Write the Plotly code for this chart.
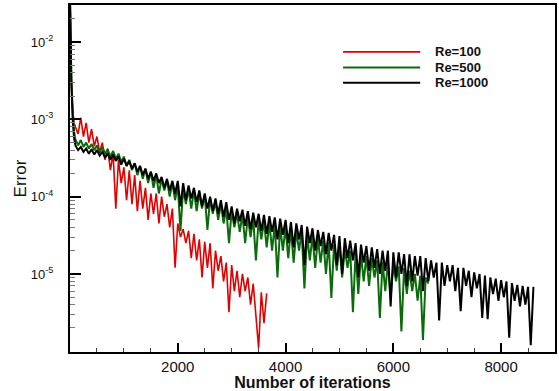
import plotly.graph_objects as go

# ---------------- data ----------------
head_iter = [0, 10, 25, 50, 75]

red_iter = head_iter + list(range(100, 3651, 50))
red_err = [
    5.0e-2, 1.5e-2, 3.0e-3, 1.3e-3, 9.0e-4,
    8.0e-4, 6.5e-4, 1.05e-3, 6.0e-4, 9.0e-4, 5.0e-4, 7.5e-4, 4.5e-4, 6.0e-4, 3.8e-4,
    5.0e-4, 3.0e-4, 4.2e-4, 2.2e-4, 3.6e-4, 7.0e-5, 3.0e-4, 1.5e-4, 2.4e-4, 9.0e-5,
    2.2e-4, 8.0e-5, 1.9e-4, 6.5e-5, 1.6e-4, 7.0e-5, 1.3e-4, 5.0e-5, 1.1e-4, 6.0e-5,
    1.1e-4, 4.5e-5, 1.0e-4, 5.5e-5, 8.0e-5, 4.0e-5, 7.0e-5, 1.2e-5, 4.5e-5, 3.0e-5,
    3.8e-5, 2.5e-5, 3.6e-5, 1.6e-5, 3.3e-5, 1.5e-5, 2.8e-5, 9.0e-6, 2.6e-5, 1.2e-5,
    2.5e-5, 6.5e-6, 2.0e-5, 1.1e-5, 1.7e-5, 8.0e-6, 1.4e-5, 3.2e-6, 1.3e-5, 6.0e-6,
    1.1e-5, 5.0e-6, 1.0e-5, 6.0e-6, 9.0e-6, 4.0e-6, 7.5e-6, 3.0e-6, 1.1e-6, 5.8e-6,
    2.3e-6, 5.6e-6,
]

green_iter = head_iter + list(range(100, 6651, 50))
green_err = [
    3.0e-2, 1.0e-2, 3.5e-3, 1.3e-3, 7.0e-4,
    5.5e-4, 4.6e-4, 5.4e-4, 4.4e-4, 5.0e-4, 4.2e-4, 4.8e-4, 4.0e-4, 4.6e-4, 3.7e-4,
    4.4e-4, 3.6e-4, 4.1e-4, 3.3e-4, 3.9e-4, 3.1e-4, 3.6e-4, 2.8e-4, 3.3e-4, 2.5e-4,
    3.0e-4, 2.2e-4, 2.7e-4, 1.9e-4, 2.5e-4, 1.7e-4, 2.3e-4, 1.5e-4, 2.1e-4, 1.3e-4,
    1.9e-4, 1.1e-4, 1.7e-4, 1.2e-4, 1.6e-4, 1.0e-4, 1.5e-4, 9.0e-5, 1.4e-4, 3.6e-5,
    1.3e-4, 8.0e-5, 1.25e-4, 7.0e-5, 1.2e-4, 6.5e-5, 1.1e-4, 7.0e-5, 1.05e-4, 3.7e-5,
    9.5e-5, 6.0e-5, 8.5e-5, 5.0e-5, 8.0e-5, 4.5e-5, 7.0e-5, 2.5e-5, 6.5e-5, 4.0e-5,
    6.0e-5, 3.5e-5, 5.8e-5, 2.5e-5, 5.5e-5, 3.0e-5, 5.2e-5, 1.5e-5, 5.0e-5, 2.8e-5,
    4.8e-5, 2.2e-5, 4.6e-5, 2.0e-5, 4.4e-5, 9.0e-6, 4.2e-5, 2.0e-5, 4.0e-5, 1.6e-5,
    3.8e-5, 1.4e-5, 3.6e-5, 2.0e-5, 3.5e-5, 6.5e-6, 3.3e-5, 1.5e-5, 3.1e-5, 1.2e-5,
    2.9e-5, 1.4e-5, 2.7e-5, 1.0e-5, 2.6e-5, 4.9e-6, 2.4e-5, 1.1e-5, 2.3e-5, 9.0e-6,
    2.1e-5, 1.2e-5, 2.0e-5, 3.2e-6, 1.9e-5, 5.5e-6, 1.8e-5, 8.0e-6, 1.7e-5, 7.0e-6,
    1.6e-5, 9.0e-6, 1.5e-5, 2.7e-6, 1.45e-5, 6.0e-6, 1.4e-5, 5.0e-6, 1.3e-5, 8.0e-6,
    1.25e-5, 1.8e-6, 1.2e-5, 5.5e-6, 1.1e-5, 6.0e-6, 1.0e-5, 4.5e-6, 9.5e-6, 1.4e-6,
    9.0e-6, 7.5e-6,
]

black_iter = head_iter + list(range(100, 8601, 50))
black_err = [
    4.0e-2, 1.2e-2, 3.0e-3, 1.0e-3, 5.8e-4,
    4.6e-4, 4.0e-4, 4.4e-4, 3.8e-4, 4.2e-4, 3.6e-4, 4.1e-4, 3.5e-4, 4.0e-4, 3.4e-4,
    3.8e-4, 3.2e-4, 3.6e-4, 3.0e-4, 3.5e-4, 2.9e-4, 3.3e-4, 2.6e-4, 3.1e-4, 2.5e-4,
    2.9e-4, 2.3e-4, 2.7e-4, 2.1e-4, 2.5e-4, 1.9e-4, 2.3e-4, 1.7e-4, 2.1e-4, 1.6e-4,
    2.0e-4, 1.5e-4, 1.8e-4, 1.3e-4, 1.7e-4, 1.2e-4, 1.6e-4, 1.1e-4, 1.6e-4, 7.5e-5,
    1.5e-4, 9.0e-5, 1.4e-4, 9.5e-5, 1.3e-4, 8.5e-5, 1.2e-4, 7.5e-5, 1.1e-4, 7.0e-5,
    1.0e-4, 6.5e-5, 9.5e-5, 6.0e-5, 9.0e-5, 5.5e-5, 8.5e-5, 5.0e-5, 7.5e-5, 4.5e-5,
    7.0e-5, 4.8e-5, 6.8e-5, 4.2e-5, 6.5e-5, 3.8e-5, 6.2e-5, 4.0e-5, 6.0e-5, 3.6e-5,
    5.8e-5, 3.3e-5, 5.6e-5, 3.5e-5, 5.4e-5, 2.8e-5, 5.2e-5, 3.2e-5, 5.0e-5, 2.5e-5,
    4.7e-5, 2.2e-5, 4.5e-5, 2.8e-5, 4.3e-5, 1.3e-5, 4.1e-5, 2.5e-5, 3.9e-5, 2.0e-5,
    3.7e-5, 2.3e-5, 3.5e-5, 1.8e-5, 3.4e-5, 2.0e-5, 3.2e-5, 1.3e-5, 3.1e-5, 1.0e-5,
    2.9e-5, 1.6e-5, 2.7e-5, 1.5e-5, 2.5e-5, 9.0e-6, 2.4e-5, 1.4e-5, 2.3e-5, 1.1e-5,
    2.2e-5, 1.2e-5, 2.1e-5, 1.0e-5, 2.0e-5, 1.1e-5, 2.0e-5, 3.8e-6, 1.9e-5, 9.0e-6,
    1.9e-5, 1.0e-5, 1.8e-5, 7.0e-6, 1.8e-5, 8.0e-6, 1.7e-5, 9.5e-6, 1.7e-5, 6.0e-6,
    1.6e-5, 8.0e-6, 1.5e-5, 9.0e-6, 1.4e-5, 2.5e-6, 1.4e-5, 7.0e-6, 1.3e-5, 8.0e-6,
    1.3e-5, 6.0e-6, 1.2e-5, 3.3e-6, 1.2e-5, 7.0e-6, 1.1e-5, 5.0e-6, 1.05e-5, 6.5e-6,
    1.0e-5, 2.7e-6, 9.5e-6, 2.6e-6, 9.0e-6, 5.5e-6, 8.7e-6, 4.5e-6, 8.3e-6, 5.0e-6,
    8.0e-6, 1.5e-6, 7.6e-6, 4.5e-6, 7.2e-6, 3.8e-6, 7.0e-6, 4.0e-6, 6.8e-6, 1.2e-6,
    6.8e-6,
]

series_names = ["Re=100", "Re=500", "Re=1000"]
series_colors = ["#e00000", "#0b6b0b", "#000000"]
series_widths = [1.6, 2.0, 2.0]

x_major = [2000, 4000, 6000, 8000]
y_major_exp = [-5, -4, -3, -2]

# ---------------- figure ----------------
fig = go.Figure()
for it, er, nm, col, w in zip(
    [red_iter, green_iter, black_iter],
    [red_err, green_err, black_err],
    series_names, series_colors, series_widths,
):
    fig.add_trace(go.Scatter(x=it, y=er, mode="lines", name=nm,
                             line=dict(color=col, width=w), showlegend=False))

# manual legend (long line samples like the reference)
leg_y = [0.865, 0.820, 0.776]
for nm, col, w, yy in zip(series_names, series_colors, series_widths, leg_y):
    fig.add_shape(type="line", xref="paper", yref="paper",
                  x0=0.563, x1=0.722, y0=yy, y1=yy,
                  line=dict(color=col, width=w))
    fig.add_annotation(xref="paper", yref="paper", x=0.748, y=yy,
                       text=nm, showarrow=False, xanchor="left", yanchor="middle",
                       font=dict(family="Liberation Sans, Arial", size=13,
                                 color="#111", weight="bold"))

y_minor = [k * 10.0 ** e for e in range(-7, -1) for k in range(2, 10)]
x_minor = [v for v in range(500, 9001, 500) if v not in x_major]

fig.update_xaxes(
    type="linear", range=[0, 9000],
    tickmode="array", tickvals=x_major, ticktext=[str(v) for v in x_major],
    ticks="inside", ticklen=9, tickwidth=2, tickcolor="#000",
    minor=dict(tickmode="array", tickvals=x_minor, ticks="inside",
               ticklen=4, tickwidth=1, tickcolor="#444", showgrid=False),
    showline=True, linewidth=2, linecolor="#000", mirror=True,
    showgrid=False, zeroline=False,
    tickfont=dict(family="Liberation Sans, Arial", size=15, color="#111"),
    title=dict(text="<b>Number of iterations</b>",
               font=dict(family="Liberation Sans, Arial", size=16, color="#111"),
               standoff=0),
)
fig.update_yaxes(
    type="log", range=[-6.01, -1.52],
    tickmode="array",
    tickvals=[10.0 ** e for e in y_major_exp],
    ticktext=["10<sup>%d</sup>" % e for e in y_major_exp],
    ticks="inside", ticklen=11, tickwidth=2, tickcolor="#000",
    minor=dict(tickmode="array", tickvals=y_minor, ticks="inside",
               ticklen=5, tickwidth=1, tickcolor="#777", showgrid=False),
    showline=True, linewidth=2, linecolor="#000", mirror=True,
    showgrid=False, zeroline=False,
    ticklabelstandoff=12,
    tickfont=dict(family="Liberation Sans, Arial", size=13, color="#111"),
    title=dict(text="Error",
               font=dict(family="Liberation Sans, Arial", size=17, color="#111"),
               standoff=0),
)

fig.update_layout(
    width=559, height=391,
    margin=dict(l=70, r=4, t=5, b=39, autoexpand=False),
    paper_bgcolor="white", plot_bgcolor="white",
    showlegend=False,
)

fig.write_html("out.html",
               config={"displayModeBar": False},
               post_script="document.body.style.margin='0';document.body.style.overflow='hidden';")
